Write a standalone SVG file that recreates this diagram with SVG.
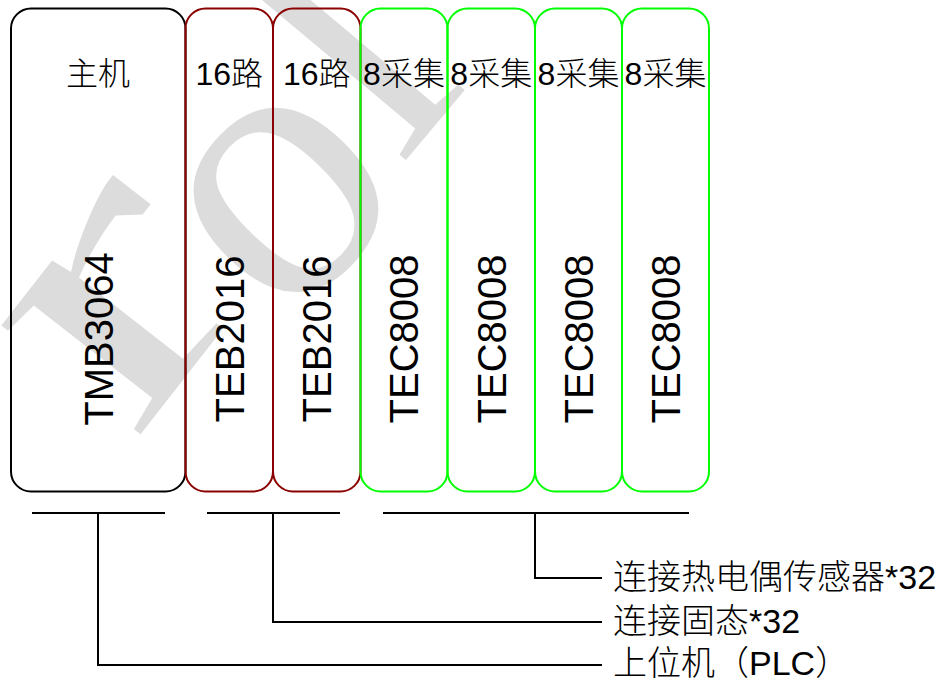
<svg xmlns="http://www.w3.org/2000/svg" width="941" height="679" viewBox="0 0 941 679">
<style>
.box{fill:none;stroke-width:2}
.k{stroke:#000000}
.r{stroke:#8B0000}
.g{stroke:#00FF00}
.top{font-family:"Liberation Sans","Noto Sans CJK SC",sans-serif;font-size:32px;font-weight:300;text-anchor:middle;fill:#000}
.vert{font-family:"Liberation Sans",Arial,sans-serif;font-size:40px;text-anchor:middle;fill:#000}
.lbl{font-family:"Liberation Sans","Noto Sans CJK SC",sans-serif;font-size:34px;font-weight:300;fill:#000}
.wm{fill:#dcdcdc;font-family:"Liberation Serif",serif;font-size:385px}
.conn{fill:none;stroke:#000;stroke-width:2}
</style>
<rect width="941" height="679" fill="#ffffff"/>
<g id="watermark">
<text class="wm" transform="translate(133,444) rotate(-52) scale(1.6,1)">r</text>
<text class="wm" transform="translate(283,331) rotate(-46)" font-size="410">o</text>
<text class="wm" transform="translate(401,166) rotate(-50)">l</text>
</g>
<g id="node-TMB3064">
<rect class="box k" x="11" y="8.5" width="174.5" height="483" rx="20"/>
<text class="top" x="98" y="85">主机</text>
<text class="vert" transform="translate(112.5,339) rotate(-90)">TMB3064</text>
</g>
<g id="node-TEB2016-1">
<rect class="box r" x="185.5" y="8.5" width="87.5" height="483" rx="20"/>
<text class="top" x="229.25" y="85">16路</text>
<text class="vert" transform="translate(243.5,339) rotate(-90)">TEB2016</text>
</g>
<g id="node-TEB2016-2">
<rect class="box r" x="273" y="8.5" width="87.5" height="483" rx="20"/>
<text class="top" x="316.75" y="85">16路</text>
<text class="vert" transform="translate(331,339) rotate(-90)">TEB2016</text>
</g>
<g id="node-TEC8008-1">
<rect class="box g" x="360.5" y="8.5" width="87" height="483" rx="20"/>
<text class="top" x="404" y="85">8采集</text>
<text class="vert" transform="translate(418.3,339) rotate(-90)">TEC8008</text>
</g>
<g id="node-TEC8008-2">
<rect class="box g" x="447.5" y="8.5" width="87.5" height="483" rx="20"/>
<text class="top" x="491.25" y="85">8采集</text>
<text class="vert" transform="translate(505.5,339) rotate(-90)">TEC8008</text>
</g>
<g id="node-TEC8008-3">
<rect class="box g" x="535" y="8.5" width="87" height="483" rx="20"/>
<text class="top" x="578.5" y="85">8采集</text>
<text class="vert" transform="translate(592.8,339) rotate(-90)">TEC8008</text>
</g>
<g id="node-TEC8008-4">
<rect class="box g" x="622" y="8.5" width="87" height="483" rx="20"/>
<text class="top" x="665.5" y="85">8采集</text>
<text class="vert" transform="translate(679.8,339) rotate(-90)">TEC8008</text>
</g>
<g id="connectors">
<line class="conn" x1="32" y1="513" x2="165" y2="513"/>
<line class="conn" x1="207" y1="513" x2="340" y2="513"/>
<line class="conn" x1="383" y1="513" x2="689" y2="513"/>
<polyline class="conn" points="98,513 98,665 602,665"/>
<polyline class="conn" points="273,513 273,622 602,622"/>
<polyline class="conn" points="535,513 535,578 602,578"/>
</g>
<g id="labels">
<text class="lbl" x="613" y="589">连接热电偶传感器*32</text>
<text class="lbl" x="613" y="633">连接固态*32</text>
<text class="lbl" x="613" y="675">上位机（PLC）</text>
</g>
</svg>
